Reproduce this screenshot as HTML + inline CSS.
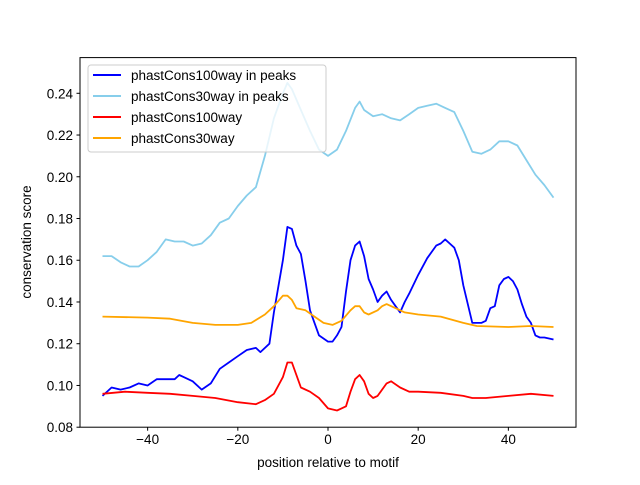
<!DOCTYPE html>
<html><head><meta charset="utf-8"><style>
body{margin:0;background:#fff}
svg{font-family:"Liberation Sans","DejaVu Sans",sans-serif}
</style></head><body>
<svg id="chart" width="640" height="480" xmlns="http://www.w3.org/2000/svg">
<rect width="640" height="480" fill="#fff"/>
<g id="series"></g>
<rect x="80" y="57.6" width="496" height="369.6" fill="none" stroke="#000" stroke-width="1"/>
<g id="axes"></g>
<text x="328" y="467" text-anchor="middle" font-size="13.5">position relative to motif</text>
<text transform="translate(31,242) rotate(-90)" text-anchor="middle" font-size="13.5" x="0" y="0">conservation score</text>
<g>
<rect x="88" y="65" width="238" height="87" rx="3" fill="#fff" fill-opacity="0.8" stroke="#ccc"/>
<line x1="93" y1="75" x2="121" y2="75" stroke="#0000ff" stroke-width="2"/>
<text x="131" y="80" font-size="13.5">phastCons100way in peaks</text>
<line x1="93" y1="96" x2="121" y2="96" stroke="#87ceeb" stroke-width="2"/>
<text x="131" y="101" font-size="13.5">phastCons30way in peaks</text>
<line x1="93" y1="117" x2="121" y2="117" stroke="#ff0000" stroke-width="2"/>
<text x="131" y="122" font-size="13.5">phastCons100way</text>
<line x1="93" y1="138" x2="121" y2="138" stroke="#ffa500" stroke-width="2"/>
<text x="131" y="143" font-size="13.5">phastCons30way</text>
</g>
</svg>
<script>
const xTicks=[-40,-20,0,20,40];
const yTicks=[0.08,0.10,0.12,0.14,0.16,0.18,0.20,0.22,0.24];
const yTickLabels=["0.08","0.10","0.12","0.14","0.16","0.18","0.20","0.22","0.24"];
const lbX=[-50,-48,-46,-44,-42,-40,-38,-36,-34,-32,-30,-28,-26,-24,-22,-20,-18,-16,-14,-12,-10,-9,-8,-6,-4,-2,0,2,4,6,7,8,10,12,14,16,18,20,22,24,26,28,30,32,34,36,38,40,42,44,46,48,50];
const lbY=[0.162,0.162,0.159,0.157,0.157,0.160,0.164,0.170,0.169,0.169,0.167,0.168,0.172,0.178,0.180,0.186,0.191,0.195,0.210,0.228,0.240,0.245,0.242,0.232,0.222,0.213,0.210,0.213,0.222,0.233,0.236,0.232,0.229,0.230,0.228,0.227,0.230,0.233,0.234,0.235,0.233,0.231,0.222,0.212,0.211,0.213,0.217,0.217,0.215,0.208,0.201,0.196,0.190];
const bX=[-50,-48,-46,-44,-42,-40,-38,-36,-34,-33,-32,-30,-28,-26,-24,-22,-20,-18,-16,-15,-13,-12,-10,-9,-8,-7,-6,-5,-4,-3,-2,0,1,2,3,4,5,6,7,8,9,10,11,12,13,14,15,16,17,18,20,22,24,25,26,27,28,29,30,32,33,34,35,36,37,38,39,40,41,42,43,44,45,46,47,48,50];
const bY=[0.095,0.099,0.098,0.099,0.101,0.100,0.103,0.103,0.103,0.105,0.104,0.102,0.098,0.101,0.108,0.111,0.114,0.117,0.118,0.116,0.120,0.135,0.160,0.176,0.175,0.167,0.163,0.150,0.136,0.130,0.124,0.121,0.121,0.124,0.128,0.145,0.160,0.167,0.169,0.162,0.151,0.146,0.140,0.143,0.145,0.141,0.138,0.135,0.140,0.144,0.153,0.161,0.167,0.168,0.170,0.168,0.166,0.160,0.148,0.130,0.130,0.130,0.131,0.137,0.138,0.148,0.151,0.152,0.150,0.146,0.139,0.133,0.130,0.124,0.123,0.123,0.122];
const oX=[-50,-40,-35,-30,-25,-20,-17,-14,-12,-10,-9,-8,-7,-5,-3,-1,1,3,5,6,7,8,9,11,12,13,15,17,20,25,30,33,40,45,50];
const oY=[0.133,0.1325,0.132,0.130,0.129,0.129,0.130,0.134,0.138,0.143,0.143,0.141,0.137,0.136,0.133,0.130,0.129,0.131,0.136,0.138,0.138,0.135,0.134,0.136,0.138,0.139,0.137,0.135,0.134,0.133,0.130,0.1285,0.128,0.1285,0.128];
const rX=[-50,-45,-40,-35,-30,-25,-20,-16,-14,-12,-10,-9,-8,-6,-4,-2,0,2,3,4,5,6,7,8,9,10,11,13,14,16,18,20,25,30,32,35,40,45,50];
const rY=[0.096,0.097,0.0965,0.096,0.095,0.094,0.092,0.091,0.093,0.096,0.104,0.111,0.111,0.099,0.097,0.094,0.089,0.088,0.089,0.090,0.097,0.103,0.105,0.102,0.096,0.094,0.095,0.101,0.102,0.099,0.097,0.097,0.0965,0.095,0.094,0.094,0.095,0.096,0.095];
const xMin=-55,xMax=55,yMin=0.08,yMax=0.2571;
const L=80,R=576,T=57.6,B=427.2;
function sx(v){return L+(v-xMin)/(xMax-xMin)*(R-L);}
function sy(v){return B-(v-yMin)/(yMax-yMin)*(B-T);}
const NS="http://www.w3.org/2000/svg";
const sg=document.getElementById('series');
function line(xs,ys,color,name){
  const p=document.createElementNS(NS,'polyline');
  p.setAttribute('points',xs.map((x,i)=>sx(x).toFixed(1)+','+sy(ys[i]).toFixed(1)).join(' '));
  p.setAttribute('fill','none');p.setAttribute('stroke',color);p.setAttribute('stroke-width','1.8');
  p.setAttribute('stroke-linejoin','round');
  
  
  sg.appendChild(p);
}
line(lbX,lbY,'#87ceeb','line-30way-peaks');
line(bX,bY,'#0000ff','line-100way-peaks');
line(oX,oY,'#ffa500','line-30way');
line(rX,rY,'#ff0000','line-100way');
const ag=document.getElementById('axes');
xTicks.forEach(v=>{
  const l=document.createElementNS(NS,'line');
  l.setAttribute('x1',sx(v));l.setAttribute('x2',sx(v));l.setAttribute('y1',B);l.setAttribute('y2',B+3.5);l.setAttribute('stroke','#000');
  
  
  ag.appendChild(l);
  const t=document.createElementNS(NS,'text');
  t.setAttribute('x',sx(v));t.setAttribute('y',B+17);t.setAttribute('text-anchor','middle');t.setAttribute('font-size','13.5');
  t.textContent=(v<0?'\u2212'+(-v):String(v));
  
  
  ag.appendChild(t);
});
yTicks.forEach((v,i)=>{
  const l=document.createElementNS(NS,'line');
  l.setAttribute('x1',L-3.5);l.setAttribute('x2',L);l.setAttribute('y1',sy(v));l.setAttribute('y2',sy(v));l.setAttribute('stroke','#000');
  
  
  ag.appendChild(l);
  const t=document.createElementNS(NS,'text');
  t.setAttribute('x',L-7);t.setAttribute('y',sy(v)+5);t.setAttribute('text-anchor','end');t.setAttribute('font-size','13.5');
  t.textContent=yTickLabels[i];
  
  
  ag.appendChild(t);
});
</script>
</body></html>
